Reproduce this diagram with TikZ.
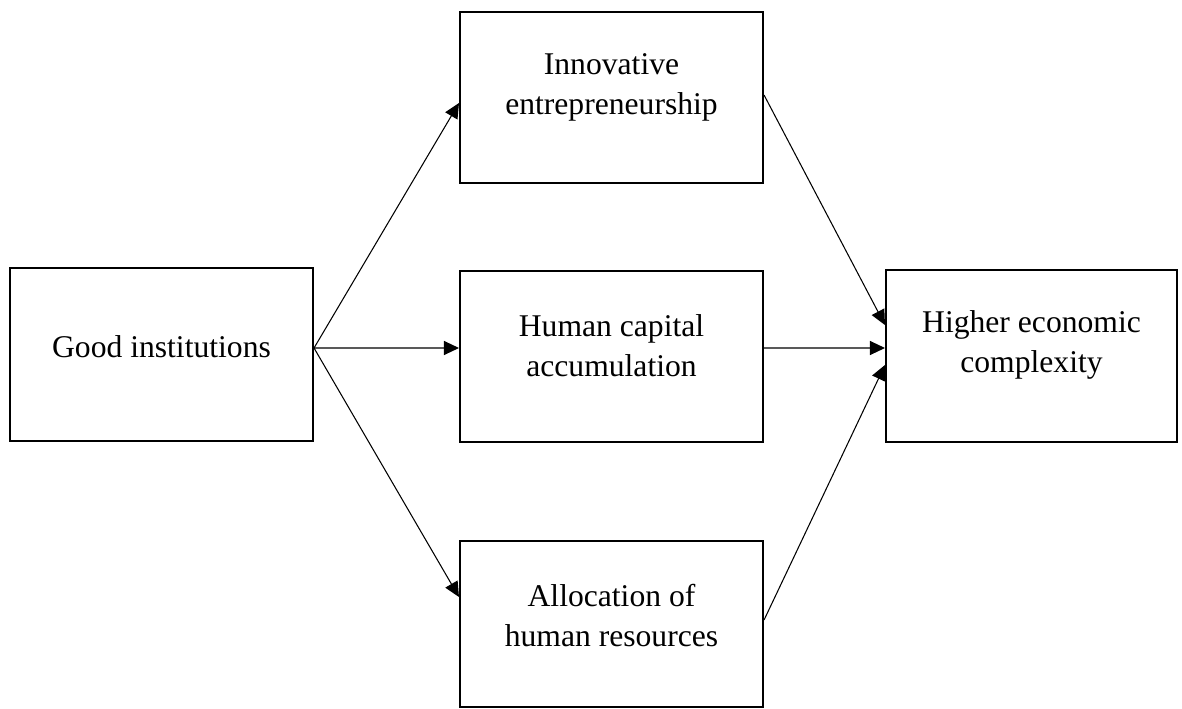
\documentclass[tikz,border=0pt]{standalone}
\usepackage{fontspec}
\setmainfont{Liberation Serif}
\usetikzlibrary{positioning, arrows.meta}

\begin{document}
\begin{tikzpicture}[x=0.02cm, y=-0.02cm,
  box/.style={draw, line width=1.2pt, minimum width=6.06cm, minimum height=3.42cm, inner sep=0pt},
  lbl/.style={align=center, font=\fontsize{18}{23}\selectfont},
  arr/.style={-{Triangle[length=0.3cm, width=0.28cm]}, line width=0.6pt}]
  \useasboundingbox (0,0) rectangle (1182,709);
  % boxes
  \node[box, minimum height=3.46cm] (gi) at (161.5,354.5) {};
  \node[box] (ie) at (611.5,97.5) {};
  \node[box] (hc) at (611.5,356.5) {};
  \node[box, minimum height=3.32cm] (ah) at (611.5,624) {};
  \node[box, minimum width=5.82cm, minimum height=3.44cm] (hec) at (1031.5,356) {};
  % texts
  \node[lbl] (gitext) at ([yshift=0.15cm]gi) {Good institutions};
  \node[lbl] (ietext) at ([yshift=0.2cm]ie) {Innovative\\entrepreneurship};
  \node[lbl] (hctext) at ([yshift=0.22cm]hc) {Human capital\\accumulation};
  \node[lbl] (ahtext) at ([yshift=0.17cm]ah) {Allocation of\\human resources};
  \node[lbl] (hectext) at ([yshift=0.22cm]hec) {Higher economic\\complexity};
  % arrows
  \draw[arr] ([yshift=0.13cm]gi.east) -- ([yshift=-0.11cm]ie.west);
  \draw[arr] ([yshift=0.13cm]gi.east) -- ([yshift=0.17cm]hc.west);
  \draw[arr] ([yshift=0.13cm]gi.east) -- ([yshift=0.54cm]ah.west);
  \draw[arr] ([yshift=0.05cm]ie.east) -- ([yshift=0.62cm]hec.west);
  \draw[arr] ([yshift=0.17cm]hc.east) -- ([yshift=0.16cm]hec.west);
  \draw[arr] ([yshift=0.08cm]ah.east) -- ([yshift=-0.18cm]hec.west);
\end{tikzpicture}
\end{document}
